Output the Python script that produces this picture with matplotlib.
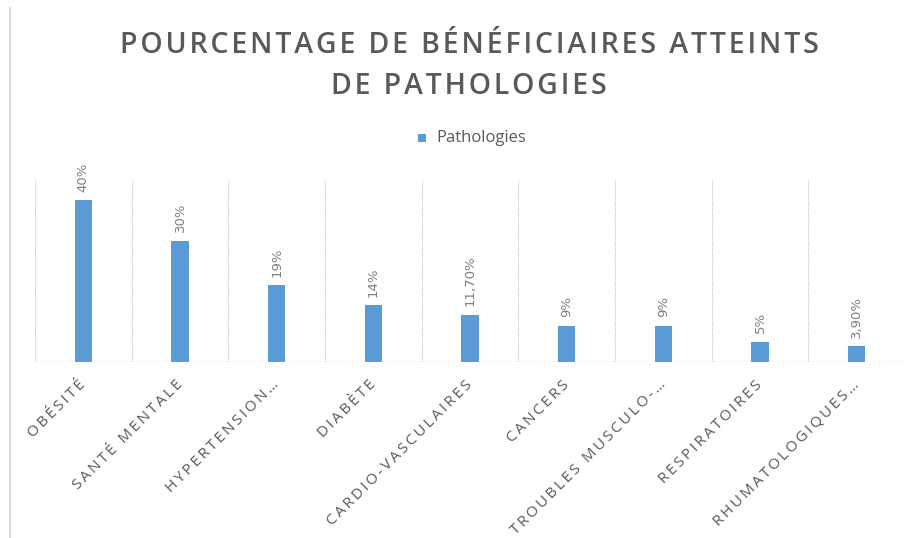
import matplotlib
matplotlib.use("Agg")
import matplotlib.pyplot as plt
from matplotlib.lines import Line2D
from matplotlib.patches import Rectangle

categories = ["OBÉSITÉ", "SANTÉ MENTALE", "HYPERTENSION…", "DIABÈTE", "CARDIO-VASCULAIRES",
              "CANCERS", "TROUBLES MUSCULO-…", "RESPIRATOIRES", "RHUMATOLOGIQUES…"]
values = [40, 30, 19, 14, 11.7, 9, 9, 5, 3.9]
value_labels = ["40%", "30%", "19%", "14%", "11,70%", "9%", "9%", "5%", "3,90%"]
series_name = "Pathologies"
title_lines = ["POURCENTAGE DE BÉNÉFICIAIRES ATTEINTS", "DE PATHOLOGIES"]

W, H = 915, 538
fig = plt.figure(figsize=(W / 100, H / 100), dpi=100)
fig.patch.set_facecolor("white")

# plot area in pixels: x 35..905, y 180..362
ax = fig.add_axes([35 / W, 1 - 362 / H, (905 - 35) / W, (362 - 180) / H])
blue = "#5b9bd5"
grey_text = "#595959"
fam = ["Open Sans", "DejaVu Sans"]

x = list(range(len(categories)))
ax.bar(x, values, width=0.18, color=blue, zorder=3)
ax.set_xlim(-0.5, len(categories) - 0.5)
ax.set_ylim(0, 45)

# vertical grid lines at category boundaries
for b in range(len(categories) + 1):
    ax.axvline(b - 0.5, color="#bfbfbf", lw=0.8, ls=(0, (1, 1)), zorder=1)
ax.axhline(0, color="#bfbfbf", lw=1.0, ls=(0, (1, 1)), zorder=4)

for s in ax.spines.values():
    s.set_visible(False)
ax.set_yticks([])
ax.set_xticks(x)
ax.set_xticklabels([])
ax.tick_params(axis="x", length=0)

# category labels rotated 45
for xi, lab in zip(x, categories):
    spaced = "\u2009".join(lab)
    ax.annotate(spaced, xy=(xi, 0), xycoords="data", xytext=(-3.5, -11), textcoords="offset points",
                rotation=45, ha="right", va="top", rotation_mode="anchor",
                fontsize=11, color=grey_text, family=fam)

# value labels rotated 90
for xi, v, lab in zip(x, values, value_labels):
    ax.annotate(lab, xy=(xi, v), xytext=(0, 6), textcoords="offset points",
                rotation=90, ha="center", va="bottom", fontsize=9.5, color="#7f7f7f",
                family="DejaVu Sans")

# title
for line, ypix in zip(title_lines, [46, 86]):
    fig.text(469 / W, 1 - ypix / H, "\u200a".join(line), ha="center", va="center", fontsize=20.5,
             fontweight="semibold", color=grey_text, family=fam)

# legend
fig.patches.append(Rectangle((418 / W, 1 - 142 / H), 8 / W, 8 / H, transform=fig.transFigure,
                             facecolor=blue, edgecolor="none"))
fig.text(436 / W, 1 - 138 / H, series_name, ha="left", va="center", fontsize=12,
         color=grey_text, family=fam)

# left border line
fig.lines.append(Line2D([9.5 / W, 9.5 / W], [0, 1 - 8 / H], transform=fig.transFigure,
                        color="#d9d9d9", lw=1.5))

fig.savefig("out.png", dpi=100)
